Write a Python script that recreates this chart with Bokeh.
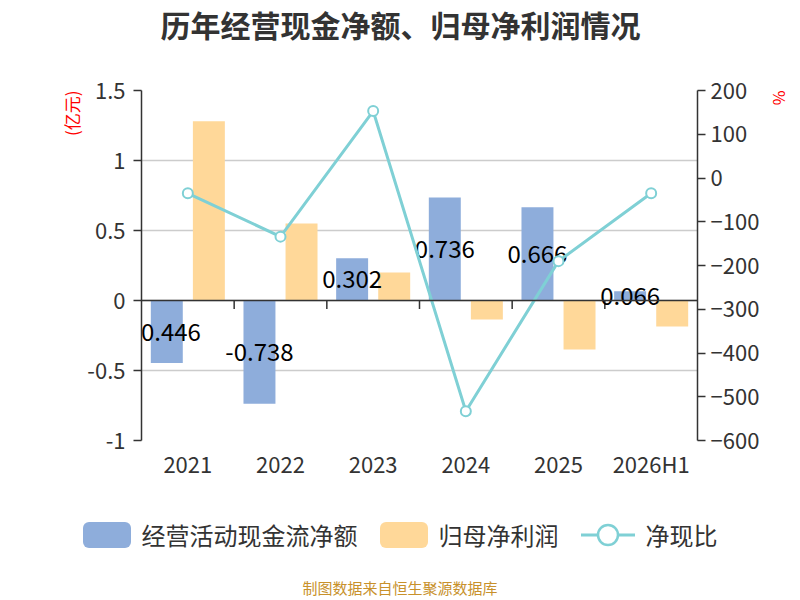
from bokeh.plotting import figure
from bokeh.layouts import column
from bokeh.models import (Range1d, LinearAxis, FixedTicker, CustomJSTickFormatter,
                          Span, Title, Label, Div)
from bokeh.core.properties import value
from bokeh.embed import file_html
from bokeh.resources import INLINE

years = ["2021", "2022", "2023", "2024", "2025", "2026H1"]
cash_flow = [-0.446, -0.738, 0.302, 0.736, 0.666, 0.066]
net_profit = [1.28, 0.55, 0.20, -0.136, -0.35, -0.186]
cash_ratio = [-35, -134, 153, -533, -190, -35]

left_ticks = [-1, -0.5, 0, 0.5, 1, 1.5]
right_ticks = [-600, -500, -400, -300, -200, -100, 0, 100, 200]

series_names = ["经营活动现金流净额", "归母净利润", "净现比"]

FONT = "Noto Sans CJK SC"
BLUE = "#8eaddb"
ORANGE = "#ffd899"
CYAN = "#7fd0d5"
TEXT = "#333333"

n = len(years)
centers = [i + 0.5 for i in range(n)]
off = 0.227
bw = 0.345

# header with the title (its frame lines up with the chart frame below)
head = figure(width=800, height=45, x_range=Range1d(141, 697), y_range=Range1d(45, 0),
              x_axis_type=None, y_axis_type=None, tools="", toolbar_location=None,
              output_backend="svg", min_border=0)
head.outline_line_color = None
head.grid.visible = False
head.add_layout(Label(x=400, y=23, text="历年经营现金净额、归母净利润情况",
                      text_align="center", text_baseline="middle", text_font=FONT,
                      text_font_style="bold", text_font_size="30px", text_color=TEXT))

p = figure(
    frame_width=556, frame_height=350,
    x_range=Range1d(0, n), y_range=Range1d(-1, 1.5),
    tools="", toolbar_location=None,
    output_backend="svg",
    min_border_left=141, min_border_right=103,
    min_border_top=45, min_border_bottom=47,
)
p.extra_y_ranges = {"right": Range1d(-600, 200)}
p.outline_line_color = None

# left axis
ya = p.yaxis[0]
ya.ticker = FixedTicker(ticks=left_ticks)
ya.formatter = CustomJSTickFormatter(code="return tick.toString()")
ya.axis_line_color = TEXT
ya.axis_line_width = 1.5
ya.major_tick_line_color = TEXT
ya.major_tick_line_width = 1.5
ya.major_tick_out = 8
ya.major_tick_in = 0
ya.minor_tick_line_color = None
ya.major_label_text_font = FONT
ya.major_label_text_font_size = "22px"
ya.major_label_text_color = TEXT
ya.major_label_standoff = 8

# right axis
ra = LinearAxis(y_range_name="right", ticker=FixedTicker(ticks=right_ticks))
ra.axis_line_color = TEXT
ra.axis_line_width = 1.5
ra.major_tick_line_color = TEXT
ra.major_tick_line_width = 1.5
ra.major_tick_out = 8
ra.major_tick_in = 0
ra.minor_tick_line_color = None
ra.major_label_text_font = FONT
ra.major_label_text_font_size = "22px"
ra.major_label_text_color = TEXT
ra.major_label_standoff = 5
p.add_layout(ra, "right")

# x axis
xa = p.xaxis[0]
xa.ticker = FixedTicker(ticks=centers)
xa.major_label_overrides = {c: y for c, y in zip(centers, years)}
xa.axis_line_color = None
xa.major_tick_line_color = None
xa.minor_tick_line_color = None
xa.major_label_text_font = FONT
xa.major_label_text_font_size = "22px"
xa.major_label_text_color = TEXT
xa.major_label_standoff = 0

p.xgrid.visible = False
p.ygrid.ticker = FixedTicker(ticks=left_ticks)
p.ygrid.grid_line_color = "#cccccc"
p.ygrid.grid_line_width = 1.5

# bars
p.vbar(x=[c - off for c in centers], top=cash_flow, bottom=0, width=bw,
       fill_color=BLUE, line_color=None)
p.vbar(x=[c + off for c in centers], top=net_profit, bottom=0, width=bw,
       fill_color=ORANGE, line_color=None)

# zero line with category separators
p.add_layout(Span(location=0, dimension="width", line_color=TEXT, line_width=1.5))
bounds = list(range(1, n))
p.segment(x0=bounds, y0=[0] * len(bounds), x1=bounds, y1=[-0.06] * len(bounds),
          line_color=TEXT, line_width=1.5)

# value labels on blue bars
p.text(x=[c - off for c in centers], y=[v / 2 for v in cash_flow],
       text=[str(v) for v in cash_flow], text_font=value(FONT),
       text_font_size="24px", text_color="#000000",
       text_align="center", text_baseline="middle")

# ratio line
p.line(centers, cash_ratio, y_range_name="right", line_color=CYAN, line_width=3)
p.scatter(centers, cash_ratio, y_range_name="right", marker="circle", size=10,
          fill_color="white", line_color=CYAN, line_width=2)

# axis names
p.add_layout(Title(text="(亿元)", align="right", standoff=2, text_font=FONT,
                   text_font_size="17px", text_font_style="normal",
                   text_color="#ff0000"), "left")
p.add_layout(Title(text="%", align="left", standoff=10, text_font=FONT,
                   text_font_size="16px", text_font_style="normal",
                   text_color="#ff0000"), "right")

# legend and source note underneath
swatch = ("<span style='display:inline-block;width:48px;height:26px;border-radius:6px;"
          "background:{}'></span>")
line_key = ("<svg width='54' height='26' style='display:block'>"
            "<line x1='0' y1='13' x2='54' y2='13' stroke='{c}' stroke-width='3'/>"
            "<circle cx='27' cy='13' r='10' fill='white' stroke='{c}' stroke-width='2.5'/>"
            "</svg>").format(c=CYAN)
keys = [swatch.format(BLUE), swatch.format(ORANGE), line_key]
items = "".join(
    "<div style='display:flex;align-items:center;margin:0 11px'>{}"
    "<span style='margin-left:11px'>{}</span></div>".format(k, name)
    for k, name in zip(keys, series_names)
)
html = (
    "<div style='position:relative;width:800px;height:113px;font-family:\"{f}\"'>"
    "<div style='position:absolute;left:0;top:32px;width:800px;height:32px;display:flex;"
    "justify-content:center;align-items:center;font-size:24px;color:{t};"
    "line-height:32px'>{items}</div>"
    "<div style='position:absolute;left:0;top:90px;width:800px;height:22px;"
    "text-align:center;font-size:15px;line-height:22px;color:#c8912b'>"
    "制图数据来自恒生聚源数据库</div></div>"
).format(f=FONT, t=TEXT, items=items)
foot = Div(text=html, width=800, height=113, margin=0)

layout = column(head, p, foot, spacing=0)
open("out.html", "w").write(file_html(layout, INLINE))
